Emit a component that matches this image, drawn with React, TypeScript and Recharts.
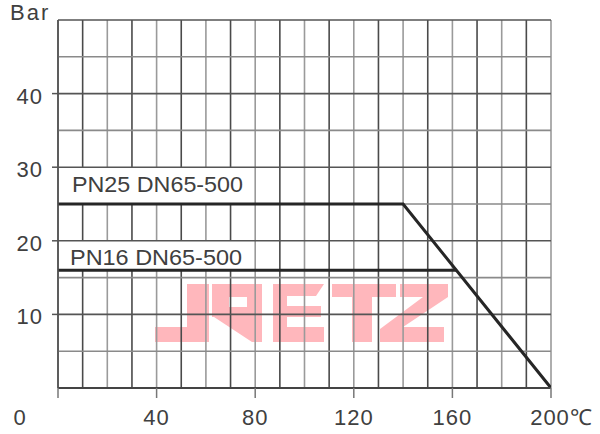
import React from 'react';
import { LineChart, Line, XAxis, YAxis, ReferenceLine, ReferenceArea } from 'recharts';

// ---- data ----
const pn25Temps = [0, 140, 200];
const pn25Bars = [25, 25, 0];
const pn16Temps = [0, 161.6];
const pn16Bars = [16, 16];
const xTicks = [0, 40, 80, 120, 160, 200];
const yTicks = [10, 20, 30, 40];
const xGrid = [0, 10, 20, 30, 40, 50, 60, 70, 80, 90, 100, 110, 120, 130, 140, 150, 160, 170, 180, 190, 200];
const yGrid = [0, 5, 10, 15, 20, 25, 30, 35, 40, 45, 50];
const label25 = 'PN25 DN65-500';
const label16 = 'PN16 DN65-500';
const yUnit = 'Bar';
const xUnit = '℃';

const pn25 = pn25Temps.map((t, i) => ({ t, p: pn25Bars[i] }));
const pn16 = pn16Temps.map((t, i) => ({ t, p: pn16Bars[i] }));

const FONT = '"Liberation Sans", Arial, sans-serif';
const TXT = '#404040';
const FS = 22;

const XTick = (props: any) => {
  const { x, y, payload } = props;
  const v = payload.value;
  const by = y + 25;
  const common = { fontFamily: FONT, fontSize: FS, fill: TXT, letterSpacing: 1 } as any;
  if (v === 0) {
    return (
      <text x={x - 38} y={by} textAnchor="middle" {...common}>
        {v}
      </text>
    );
  }
  if (v === 200) {
    return (
      <g>
        <text x={x - 1} y={by} textAnchor="middle" {...common}>
          {v}
        </text>
        <text x={x + 19} y={by} textAnchor="start" {...common} letterSpacing={0}>
          {xUnit}
        </text>
      </g>
    );
  }
  return (
    <text x={x} y={by} textAnchor="middle" {...common}>
      {v}
    </text>
  );
};

const YTick = (props: any) => {
  const { x, y, payload } = props;
  return (
    <text x={x - 7} y={y + 10} textAnchor="end" fontFamily={FONT} fontSize={FS} fill={TXT} letterSpacing={1}>
      {payload.value}
    </text>
  );
};

const boxLabel = (text: string, dx: number, dy: number, len: number) => (props: any) => {
  const vb = props.viewBox || {};
  return (
    <text
      x={vb.x + dx}
      y={vb.y + vb.height + dy}
      fontFamily={FONT}
      fontSize={FS}
      fill={TXT}
      textLength={len}
      lengthAdjust="spacingAndGlyphs"
    >
      {text}
    </text>
  );
};

const Logo = () => {
  const c = '#ffb7bc';
  return (
    <svg width={600} height={434} style={{ position: 'absolute', left: 0, top: 0 }}>
      <g fill={c}>
        {/* J */}
        <polygon points="187,284 209,284 209,342 155,342 155,327 187,327" />
        {/* R */}
        <path
          fillRule="evenodd"
          d="M212,284 L262,284 L262,342 L252,342 L214,317 L212,317 Z M229,297 L247,297 L247,307 L229,307 Z"
        />
        {/* E */}
        <polygon points="273,284 324,284 316,296 287,296 287,306 321,306 321,317 287,317 287,327 324,327 324,342 273,342" />
        {/* T */}
        <polygon points="332,284 396,284 396,297 372,297 372,342 352,342 352,297 332,297" />
        {/* Z */}
        <polygon points="400,284 448,284 448,297 403,327 444,327 444,342 380,342 380,329 423,297 400,297" />
      </g>
      <text x={10} y={20} fontFamily={FONT} fontSize={FS} fill={TXT} letterSpacing={2}>
        {yUnit}
      </text>
    </svg>
  );
};

const gapX = (v: number) => v > 0 && v < 80;

export default function App() {
  return (
    <div style={{ position: 'absolute', left: 0, top: 0, width: 600, height: 434, background: '#fff' }}>
      <Logo />
      <div style={{ position: 'absolute', left: 0, top: 0 }}>
        <LineChart width={600} height={434} margin={{ top: 20, right: 49, left: 0, bottom: 0 }}>
          <XAxis
            dataKey="t"
            type="number"
            domain={[0, 200]}
            ticks={xTicks}
            interval={0}
            height={46}
            tickSize={10}
            tickLine={{ stroke: '#777', strokeWidth: 1.5 }}
            axisLine={{ stroke: '#444', strokeWidth: 2 }}
            tick={<XTick />}
            allowDataOverflow
          />
          <YAxis
            type="number"
            domain={[0, 50]}
            ticks={yTicks}
            interval={0}
            width={58}
            tickSize={6}
            tickLine={{ stroke: '#555', strokeWidth: 1.5 }}
            axisLine={{ stroke: '#555', strokeWidth: 1.5 }}
            tick={<YTick />}
            allowDataOverflow
          />
          {xGrid.map((v) => {
            const stroke = (v / 10) % 2 === 1 ? '#4a4a4a' : '#9a9a9a';
            if (gapX(v)) {
              return [
                <ReferenceLine key={`a${v}`} segment={[{ x: v, y: 0 }, { x: v, y: 16 }]} stroke={stroke} strokeWidth={1.6} />,
                <ReferenceLine key={`b${v}`} segment={[{ x: v, y: 20 }, { x: v, y: 25 }]} stroke={stroke} strokeWidth={1.6} />,
                <ReferenceLine key={`c${v}`} segment={[{ x: v, y: 30 }, { x: v, y: 50 }]} stroke={stroke} strokeWidth={1.6} />,
              ];
            }
            return <ReferenceLine key={`v${v}`} x={v} stroke={v === 0 ? '#555' : stroke} strokeWidth={1.6} />;
          })}
          {yGrid.map((v) => (
            <ReferenceLine key={`h${v}`} y={v} stroke={v % 10 === 5 ? '#8a8a8a' : '#555'} strokeWidth={1.6} />
          ))}
          <ReferenceArea x1={0} x2={80} y1={25} y2={30} fill="none" stroke="none" label={boxLabel(label25, 14, -12, 171)} />
          <ReferenceArea x1={0} x2={80} y1={16} y2={20} fill="none" stroke="none" label={boxLabel(label16, 12, -5, 172)} />
          <Line data={pn25} dataKey="p" stroke="#262626" strokeWidth={3} dot={false} isAnimationActive={false} />
          <Line data={pn16} dataKey="p" stroke="#262626" strokeWidth={3} dot={false} isAnimationActive={false} />
        </LineChart>
      </div>
    </div>
  );
}
